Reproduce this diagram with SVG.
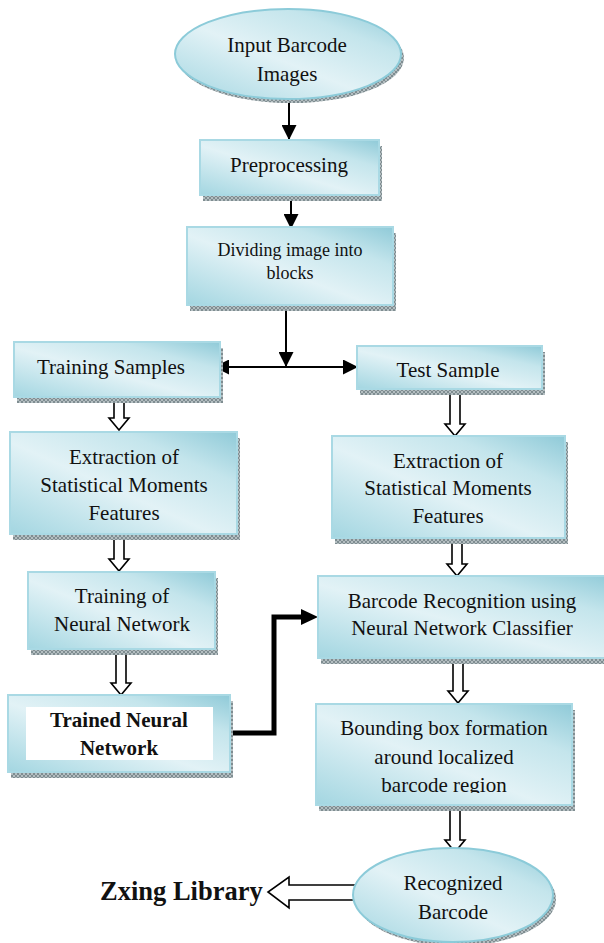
<svg xmlns="http://www.w3.org/2000/svg" width="604" height="943" viewBox="0 0 604 943">
<defs>
<linearGradient id="g" x1="0" y1="1" x2="1" y2="0">
<stop offset="0" stop-color="#a3d6e1"/>
<stop offset="0.45" stop-color="#e2f2f6"/>
<stop offset="0.75" stop-color="#c4e5ec"/>
<stop offset="1" stop-color="#8fcad8"/>
</linearGradient>
<pattern id="h" width="4" height="4" patternUnits="userSpaceOnUse">
<rect width="4" height="4" fill="#b4bec1"/>
<path d="M0,0 L4,4 M4,0 L0,4" stroke="#7f8d91" stroke-width="1"/>
</pattern>
<marker id="ah" markerUnits="userSpaceOnUse" markerWidth="15" markerHeight="15" refX="15" refY="7.5" orient="auto-start-reverse">
<path d="M0,0 L15,7.5 L0,15 Z" fill="#000"/>
</marker>
<clipPath id="cTest"><rect x="357" y="346" width="186" height="32"/></clipPath>
<clipPath id="cBound"><rect x="316" y="704" width="256" height="89"/></clipPath>
</defs>
<style>
.box{fill:url(#g);stroke:#a9d9e4;stroke-width:2}
.sh{fill:url(#h)}
.t{font-family:"Liberation Serif","Times New Roman",serif;font-size:21px;fill:#111;text-anchor:middle}
.b{font-weight:bold}
.hol{fill:#fff;stroke:#000;stroke-width:1.6;stroke-linejoin:miter}
.ln{fill:none;stroke:#000;stroke-width:2}
</style>

<g id="connectors">
<line class="ln" x1="289" y1="99" x2="289" y2="140" marker-end="url(#ah)"/>
<line class="ln" x1="291" y1="197" x2="291" y2="229" marker-end="url(#ah)"/>
<line class="ln" x1="286" y1="306" x2="286" y2="367" marker-end="url(#ah)"/>
<line class="ln" x1="214" y1="367" x2="358" y2="367" marker-start="url(#ah)" marker-end="url(#ah)"/>
<path class="hol" d="M114,398 H124 V418 H129 L119,430 L109,418 H114 Z"/>
<path class="hol" d="M450,390 H460 V424 H465 L455,436 L445,424 H450 Z"/>
<path class="hol" d="M114,533 H124 V559 H129 L119,571 L109,559 H114 Z"/>
<path class="hol" d="M452,538 H462 V564 H467 L457,576 L447,564 H452 Z"/>
<path class="hol" d="M116,651 H126 V683 H131 L121,695 L111,683 H116 Z"/>
<path class="hol" d="M453,660 H463 V691 H468 L458,703 L448,691 H453 Z"/>
<path class="hol" d="M450,805 H460 V840 H465 L455,852 L445,840 H450 Z"/>
<path class="hol" d="M355,885 H289 V877 L268,892 L289,908 V900 H355 Z"/>
<path d="M230,733 H274 V617 H303" fill="none" stroke="#000" stroke-width="5"/>
<path d="M301,609 L318,617 L301,625 Z" fill="#000"/>
</g>

<g id="input">
<ellipse class="sh" cx="291" cy="58" rx="113" ry="45"/>
<ellipse cx="288" cy="54" rx="113" ry="45" fill="url(#g)" stroke="#8ccbd9" stroke-width="2"/>
<text class="t" x="287" y="52">Input Barcode</text>
<text class="t" x="287" y="81">Images</text>
</g>

<g id="preprocessing">
<rect class="sh" x="203" y="146" width="179" height="55"/>
<rect class="box" x="200" y="140" width="179" height="55"/>
<text class="t" x="289" y="172">Preprocessing</text>
</g>

<g id="dividing">
<rect class="sh" x="190" y="233" width="206" height="78"/>
<rect class="box" x="187" y="227" width="206" height="78"/>
<text class="t" x="290" y="256" style="font-size:18px">Dividing image into</text>
<text class="t" x="290" y="279" style="font-size:18px">blocks</text>
</g>

<g id="training-samples">
<rect class="sh" x="17" y="348" width="206" height="55"/>
<rect class="box" x="14" y="342" width="206" height="55"/>
<text class="t" x="111" y="374">Training Samples</text>
</g>

<g id="test-sample">
<rect class="sh" x="360" y="352" width="185" height="43"/>
<rect class="box" x="357" y="346" width="185" height="43"/>
<text class="t" x="448" y="377" clip-path="url(#cTest)">Test Sample</text>
</g>

<g id="extraction-left">
<rect class="sh" x="13" y="438" width="227" height="102"/>
<rect class="box" x="10" y="432" width="227" height="102"/>
<text class="t" x="124" y="464">Extraction of</text>
<text class="t" x="124" y="492">Statistical Moments</text>
<text class="t" x="124" y="520">Features</text>
</g>

<g id="extraction-right">
<rect class="sh" x="335" y="442" width="233" height="102"/>
<rect class="box" x="332" y="436" width="233" height="102"/>
<text class="t" x="448" y="468">Extraction of</text>
<text class="t" x="448" y="495">Statistical Moments</text>
<text class="t" x="448" y="523">Features</text>
</g>

<g id="training-nn">
<rect class="sh" x="31" y="578" width="187" height="77"/>
<rect class="box" x="28" y="572" width="187" height="77"/>
<text class="t" x="122" y="603">Training of</text>
<text class="t" x="122" y="631">Neural Network</text>
</g>

<g id="recognition">
<rect class="sh" x="321" y="582" width="300" height="82"/>
<rect class="box" x="318" y="576" width="300" height="82"/>
<text class="t" x="462" y="608">Barcode Recognition using</text>
<text class="t" x="462" y="635">Neural Network Classifier</text>
</g>

<g id="trained-nn">
<rect class="sh" x="11" y="701" width="222" height="77"/>
<rect class="box" x="8" y="695" width="222" height="77"/>
<rect x="26" y="707" width="187" height="53" fill="#fff"/>
<text class="t b" x="119" y="727">Trained Neural</text>
<text class="t b" x="119" y="755">Network</text>
</g>

<g id="bounding">
<rect class="sh" x="319" y="710" width="256" height="101"/>
<rect class="box" x="316" y="704" width="256" height="101"/>
<g clip-path="url(#cBound)">
<text class="t" x="444" y="735">Bounding box formation</text>
<text class="t" x="444" y="764">around localized</text>
<text class="t" x="444" y="792">barcode region</text>
</g>
</g>

<g id="recognized">
<ellipse class="sh" cx="456" cy="899" rx="100" ry="47"/>
<ellipse cx="453" cy="895" rx="100" ry="47" fill="url(#g)" stroke="#8ccbd9" stroke-width="2"/>
<text class="t" x="453" y="890">Recognized</text>
<text class="t" x="453" y="919">Barcode</text>
</g>

<g id="zxing">
<text class="t b" x="100" y="900" style="font-size:26.5px;text-anchor:start">Zxing Library</text>
</g>
</svg>
